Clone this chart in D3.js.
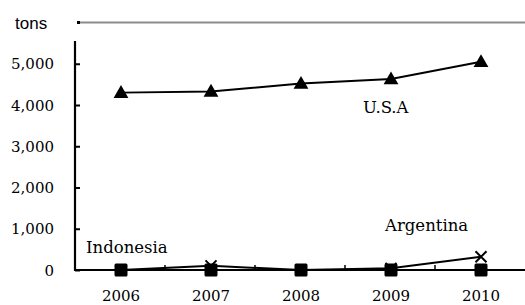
<!DOCTYPE html>
<html>
<head>
<meta charset="utf-8">
<script src="https://cdn.jsdelivr.net/npm/d3@7"></script>
<style>
  body { margin: 0; background: #fff; }
  svg { display: block; }
</style>
</head>
<body>
<script>
// tons by year
let years = ["2006", "2007", "2008", "2009", "2010"]
let usa = [4300, 4330, 4520, 4630, 5050]
let argentina = [0, 100, 0, 40, 320]
let indonesia = [0, 0, 0, 0, 0]
let yTicks = [0, 1000, 2000, 3000, 4000, 5000]

let w = 525
let h = 305
let serif = "'DejaVu Serif', serif"

let svg = d3.select("body")
            .append("svg")
            .attr("width", w)
            .attr("height", h)

let x = d3.scaleBand().domain(years).range([76, 526])
let y = d3.scaleLinear().domain([0, 6000]).range([270, 22.5])
let cx = d => x(d) + x.bandwidth() / 2

// grey top line (6000 level)
svg.append("line")
    .attr("x1", 78).attr("x2", w)
    .attr("y1", y(6000)).attr("y2", y(6000))
    .attr("stroke", "#8c8c8c")
    .attr("stroke-width", 2)
svg.append("rect")
    .attr("x", 77).attr("y", y(6000) - 1.5)
    .attr("width", 3).attr("height", 3)
    .attr("fill", "#000")

svg.append("text")
    .text("tons")
    .attr("x", 15).attr("y", y(6000) + 6)
    .attr("font-family", "'Liberation Sans', Arial, sans-serif")
    .attr("font-size", "17px")

// y axis
let yAxis = svg.append("g")
    .attr("transform", "translate(75,0)")
    .call(d3.axisRight(y).tickValues(yTicks).tickSize(5).tickFormat(""))
yAxis.select(".domain").remove()
yAxis.selectAll("line").attr("stroke", "#000").attr("stroke-width", 2)
svg.append("line")
    .attr("x1", 75).attr("x2", 75)
    .attr("y1", 41).attr("y2", y(0) + 1)
    .attr("stroke", "#000").attr("stroke-width", 2.2)

svg.selectAll(".ylab")
    .data(yTicks)
    .enter()
    .append("text")
    .attr("class", "ylab")
    .text(d => d3.format(",")(d))
    .attr("x", 54)
    .attr("y", d => y(d) + 5.5)
    .attr("text-anchor", "end")
    .attr("font-family", serif)
    .attr("font-size", "15px")

// x axis
svg.append("line")
    .attr("x1", 74).attr("x2", w)
    .attr("y1", y(0)).attr("y2", y(0))
    .attr("stroke", "#000").attr("stroke-width", 2.2)

svg.selectAll(".xtick")
    .data(years.slice(1))
    .enter()
    .append("line")
    .attr("x1", d => x(d) - 1).attr("x2", d => x(d) - 1)
    .attr("y1", y(0)).attr("y2", y(0) - 5)
    .attr("stroke", "#000").attr("stroke-width", 1.5)

svg.selectAll(".xlab")
    .data(years)
    .enter()
    .append("text")
    .attr("class", "xlab")
    .text(d => d)
    .attr("x", cx)
    .attr("y", 301)
    .attr("text-anchor", "middle")
    .attr("font-family", serif)
    .attr("font-size", "15px")

let line = d3.line().x((d, i) => cx(years[i])).y(d => y(d))

// Indonesia: dashed line, squares
svg.append("path")
    .datum(indonesia)
    .attr("d", line)
    .attr("fill", "none")
    .attr("stroke", "#000")
    .attr("stroke-width", 1.5)
    .attr("stroke-dasharray", "4,3")

// Argentina: solid line, crosses
svg.append("path")
    .datum(argentina)
    .attr("d", line)
    .attr("fill", "none")
    .attr("stroke", "#000")
    .attr("stroke-width", 2)

svg.selectAll(".cross")
    .data(argentina)
    .enter()
    .append("path")
    .attr("class", "cross")
    .attr("d", (d, i) => {
        let px = cx(years[i]), py = y(d), s = 5.5
        return `M${px - s},${py - s}L${px + s},${py + s}M${px - s},${py + s}L${px + s},${py - s}`
    })
    .attr("stroke", "#000")
    .attr("stroke-width", 2)

svg.selectAll(".sq")
    .data(indonesia)
    .enter()
    .append("rect")
    .attr("class", "sq")
    .attr("x", (d, i) => cx(years[i]) - 6.5)
    .attr("y", d => y(d) - 6.5)
    .attr("width", 13).attr("height", 13)
    .attr("rx", 1.5)
    .attr("fill", "#000")

// U.S.A: solid line, triangles
svg.append("path")
    .datum(usa)
    .attr("d", line)
    .attr("fill", "none")
    .attr("stroke", "#000")
    .attr("stroke-width", 2)

svg.selectAll(".tri")
    .data(usa)
    .enter()
    .append("path")
    .attr("class", "tri")
    .attr("d", d3.symbol().type(d3.symbolTriangle).size(95))
    .attr("transform", (d, i) => `translate(${cx(years[i])},${y(d) + 1})`)
    .attr("fill", "#000")

// series labels
let labels = [
    { t: "U.S.A", x: cx("2009") - 28, y: 113 },
    { t: "Argentina", x: cx("2010") - 96, y: 231 },
    { t: "Indonesia", x: 86, y: 253 }
]
svg.selectAll(".slab")
    .data(labels)
    .enter()
    .append("text")
    .attr("class", "slab")
    .text(d => d.t)
    .attr("x", d => d.x)
    .attr("y", d => d.y)
    .attr("font-family", serif)
    .attr("font-size", "16.5px")
</script>
</body>
</html>
